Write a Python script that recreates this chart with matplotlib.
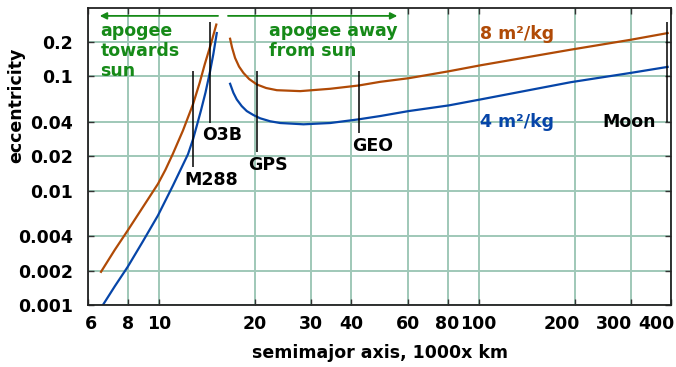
import numpy as np
import matplotlib
matplotlib.use("Agg")
import matplotlib.pyplot as plt
from matplotlib.transforms import ScaledTranslation

# semimajor axis (1000x km) and eccentricity
brown_left_a = [6.59, 7.28, 7.99, 9.93, 10.48, 11.06, 11.89, 12.79, 13.42, 13.91, 14.53, 15.12]
brown_left_e = [0.00195, 0.00304, 0.00449, 0.01144, 0.0152, 0.021, 0.0335, 0.0571, 0.0881, 0.127, 0.19, 0.283]
brown_right_a = [16.70, 16.94, 17.31, 17.81, 18.38, 19.15, 20.25, 21.65, 23.39, 27.67, 34.36,
                 42.16, 49.29, 60.45, 80.7, 101.5, 194.3, 299.6, 390.4]
brown_right_e = [0.2127, 0.1777, 0.1445, 0.1215, 0.107, 0.0946, 0.0847, 0.0789, 0.0755, 0.0741, 0.0777,
                 0.083, 0.0894, 0.0961, 0.1105, 0.1247, 0.1707, 0.2085, 0.2384]

blue_left_a = [6.68, 7.28, 7.99, 8.91, 9.93, 11.06, 12.33, 12.79, 13.15, 13.54, 13.99, 14.45, 14.8, 15.17]
blue_left_e = [0.001, 0.00146, 0.00216, 0.0036, 0.00606, 0.01105, 0.0208, 0.0282, 0.0373, 0.0503, 0.0722, 0.1099, 0.156, 0.2384]
blue_right_a = [16.70, 17.10, 17.52, 18.16, 18.83, 19.75, 20.73, 22.28, 23.95, 28.34, 34.36,
                42.16, 49.29, 60.45, 80.7, 101.5, 194.3, 299.6, 390.4]
blue_right_e = [0.0859, 0.0717, 0.0627, 0.0548, 0.0496, 0.0458, 0.0429, 0.0404, 0.039, 0.038, 0.039,
                0.042, 0.0449, 0.0496, 0.0556, 0.0627, 0.0887, 0.107, 0.1207]

# orbits marked with vertical lines
orbit_names = ["M288", "O3B", "GPS", "GEO", "Moon"]
orbit_a = [12.8, 14.45, 20.3, 42.4, 388]
orbit_lo = [0.016, 0.0393, 0.0218, 0.0322, 0.0401]
orbit_hi = [0.1105, 0.299, 0.1105, 0.1105, 0.297]
orbit_label_x = [12.0, 13.61, 19.05, 40.19, 244.2]
orbit_label_y = [0.01239, 0.0305, 0.01683, 0.0246, 0.0401]

xticks = [6, 8, 10, 20, 30, 40, 60, 80, 100, 200, 300, 400]
yticks = [0.001, 0.002, 0.004, 0.01, 0.02, 0.04, 0.1, 0.2]
ytick_labels = ["0.001", "0.002", "0.004", "0.01", "0.02", "0.04", "0.1", "0.2"]

brown = "#b04a06"
blue = "#0645a8"
green = "#168a18"
gridc = "#9fc8b8"
fs = 12.5

fig = plt.figure(figsize=(6.76, 3.67), dpi=100)
ax = fig.add_axes([88/676, 62/367, 583/676, 297/367])
ax.set_xscale("log")
ax.set_yscale("log")
ax.set_xlim(6, 400)
ax.set_ylim(0.001, 0.395)

ax.set_xticks(xticks)
ax.set_xticklabels([str(t) for t in xticks], fontweight="bold", fontsize=fs)
ax.set_yticks(yticks)
ax.set_yticklabels(ytick_labels, fontweight="bold", fontsize=fs)
ax.minorticks_off()
ax.tick_params(which="both", direction="in", top=True, right=True, length=4, width=1, color="#333333")
ax.tick_params(axis="x", pad=7)
ax.tick_params(axis="y", pad=11)
# some x labels sit off their ticks in the original
shift = {"6": 3, "200": -13, "300": -17, "400": -15}
for lab in ax.get_xticklabels():
    dx = shift.get(lab.get_text(), 0)
    if dx:
        lab.set_transform(lab.get_transform() + ScaledTranslation(dx / 100, 0, fig.dpi_scale_trans))
ax.grid(True, color=gridc, lw=1.4)
ax.set_axisbelow(True)
for s in ax.spines.values():
    s.set_color("#222222")
    s.set_linewidth(1.3)

ax.plot(brown_left_a, brown_left_e, color=brown, lw=1.6)
ax.plot(brown_right_a, brown_right_e, color=brown, lw=1.6)
ax.plot(blue_left_a, blue_left_e, color=blue, lw=1.6)
ax.plot(blue_right_a, blue_right_e, color=blue, lw=1.6)

ax.vlines(orbit_a, orbit_lo, orbit_hi, color="black", lw=1.1)
for name, x, y in zip(orbit_names, orbit_label_x, orbit_label_y):
    ax.text(x, y, name, fontsize=fs, fontweight="bold", va="center", ha="left")

ax.text(100.7, 0.2337, "8 m²/kg", color=brown, fontsize=fs, fontweight="bold", va="center")
ax.text(100.7, 0.0401, "4 m²/kg", color=blue, fontsize=fs, fontweight="bold", va="center")

# apogee direction arrows
ax.annotate("", xy=(6.53, 0.337), xytext=(15.31, 0.337),
            arrowprops=dict(arrowstyle="-|>", color=green, lw=1.3, mutation_scale=10, shrinkA=0, shrinkB=0))
ax.annotate("", xy=(55.7, 0.337), xytext=(16.45, 0.337),
            arrowprops=dict(arrowstyle="-|>", color=green, lw=1.3, mutation_scale=10, shrinkA=0, shrinkB=0))
ax.text(6.56, 0.166, "apogee\ntowards\nsun", color=green, fontsize=fs, fontweight="bold",
        va="center", ha="left", linespacing=1.14)
ax.text(22.12, 0.204, "apogee away\nfrom sun", color=green, fontsize=fs, fontweight="bold",
        va="center", ha="left", linespacing=1.14)

ax.set_xlabel("semimajor axis, 1000x km", fontsize=fs, fontweight="bold", labelpad=8)
fig.text(16/676, 1 - 105/367, "eccentricity", rotation=90, fontsize=fs, fontweight="bold",
         ha="center", va="center")

fig.savefig("out.png", dpi=100)
